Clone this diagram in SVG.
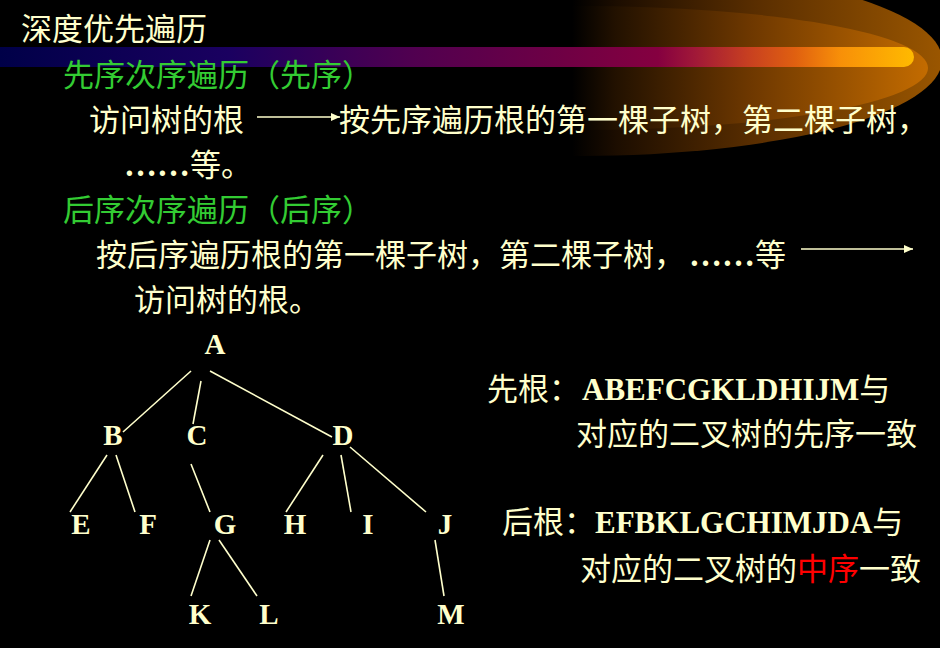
<svg xmlns="http://www.w3.org/2000/svg" width="940" height="648" viewBox="0 0 940 648">
<defs>
<linearGradient id="gOuter" gradientUnits="userSpaceOnUse" x1="572" y1="0" x2="942" y2="0">
<stop offset="0" stop-color="#000000"/>
<stop offset="0.12" stop-color="#1c0d00"/>
<stop offset="0.5" stop-color="#5a2e00"/>
<stop offset="1" stop-color="#9a5600"/>
</linearGradient>
<linearGradient id="gInner" gradientUnits="userSpaceOnUse" x1="572" y1="0" x2="930" y2="0">
<stop offset="0" stop-color="#000000"/>
<stop offset="0.12" stop-color="#221100"/>
<stop offset="0.5" stop-color="#6e3800"/>
<stop offset="1" stop-color="#c46c00"/>
</linearGradient>
<linearGradient id="gBar" gradientUnits="userSpaceOnUse" x1="0" y1="0" x2="914" y2="0">
<stop offset="0" stop-color="#000048"/>
<stop offset="0.25" stop-color="#1a0060"/>
<stop offset="0.45" stop-color="#500050"/>
<stop offset="0.62" stop-color="#700044"/>
<stop offset="0.72" stop-color="#850040"/>
<stop offset="0.76" stop-color="#a01838"/>
<stop offset="0.82" stop-color="#c84020"/>
<stop offset="0.87" stop-color="#e06010"/>
<stop offset="0.92" stop-color="#f89008"/>
<stop offset="1" stop-color="#ffba00"/>
</linearGradient>
<marker id="arr" markerUnits="userSpaceOnUse" markerWidth="10" markerHeight="10" refX="9" refY="5" orient="auto">
<path d="M0,1 L9,5 L0,9 Z" fill="#ffffcc"/>
</marker>
<style>
.t{font-family:"Noto Sans CJK SC","Noto Sans",sans-serif;font-size:31px;fill:#ffffcc}
.g{fill:#33cc33}
.r{fill:#ff0000}
.lat{font-family:"Liberation Serif","Times New Roman",serif;font-weight:bold}
.dots{font-family:"Liberation Serif","Times New Roman",serif;font-weight:bold;font-size:33px}
.n{font-family:"Liberation Serif","Times New Roman",serif;font-weight:bold;font-size:29px;fill:#ffffcc;text-anchor:middle}
.e{stroke:#ffffcc;stroke-width:1.6;fill:none}
</style>
</defs>
<rect width="940" height="648" fill="#000000"/>
<g id="decor">
<ellipse cx="580" cy="60" rx="362" ry="96" fill="url(#gOuter)"/>
<ellipse cx="580" cy="68" rx="348" ry="62" fill="url(#gInner)"/>
<path d="M0,47 H904 A10,10 0 0 1 904,67 H0 Z" fill="url(#gBar)"/>
</g>
<g id="text">
<text class="t" x="21" y="40">深度优先遍历</text>
<text class="t g" x="63" y="86">先序次序遍历（先序）</text>
<text class="t" x="89" y="131">访问树的根</text>
<line class="e" x1="257" y1="117" x2="340" y2="117" marker-end="url(#arr)"/>
<text class="t" x="339" y="131">按先序遍历根的第一棵子树，第二棵子树，</text>
<text class="t" x="124" y="176"><tspan class="dots">……</tspan>等。</text>
<text class="t g" x="63" y="221">后序次序遍历（后序）</text>
<text class="t" x="96" y="266">按后序遍历根的第一棵子树，第二棵子树，<tspan class="dots" dx="4">……</tspan>等</text>
<line class="e" x1="801" y1="249" x2="913" y2="249" marker-end="url(#arr)"/>
<text class="t" x="134" y="311">访问树的根。</text>
<text class="t" x="487" y="400">先根：<tspan class="lat" x="582">ABEFCGKLDHIJM</tspan>与</text>
<text class="t" x="576" y="445">对应的二叉树的先序一致</text>
<text class="t" x="502" y="533">后根：<tspan class="lat" x="595">EFBKLGCHIMJDA</tspan>与</text>
<text class="t" x="580" y="580">对应的二叉树的<tspan class="r">中序</tspan>一致</text>
</g>
<g id="connectors">
<line class="e" x1="191" y1="371" x2="123" y2="432"/>
<line class="e" x1="201" y1="381" x2="193" y2="424"/>
<line class="e" x1="210" y1="371" x2="332" y2="437"/>
<line class="e" x1="107" y1="455" x2="70" y2="512"/>
<line class="e" x1="116" y1="455" x2="135" y2="512"/>
<line class="e" x1="191" y1="464" x2="210" y2="512"/>
<line class="e" x1="323" y1="455" x2="286" y2="512"/>
<line class="e" x1="341" y1="455" x2="351" y2="512"/>
<line class="e" x1="350" y1="447" x2="426" y2="512"/>
<line class="e" x1="210" y1="540" x2="191" y2="596"/>
<line class="e" x1="219" y1="540" x2="257" y2="596"/>
<line class="e" x1="435" y1="540" x2="444" y2="596"/>
</g>
<g id="node-A"><text class="n" x="215" y="354">A</text></g>
<g id="node-B"><text class="n" x="113" y="445">B</text></g>
<g id="node-C"><text class="n" x="197" y="445">C</text></g>
<g id="node-D"><text class="n" x="343" y="445">D</text></g>
<g id="node-E"><text class="n" x="81" y="534">E</text></g>
<g id="node-F"><text class="n" x="148" y="534">F</text></g>
<g id="node-G"><text class="n" x="225" y="534">G</text></g>
<g id="node-H"><text class="n" x="295" y="534">H</text></g>
<g id="node-I"><text class="n" x="368" y="534">I</text></g>
<g id="node-J"><text class="n" x="445" y="534">J</text></g>
<g id="node-K"><text class="n" x="200" y="624">K</text></g>
<g id="node-L"><text class="n" x="269" y="624">L</text></g>
<g id="node-M"><text class="n" x="451" y="624">M</text></g>
</svg>
